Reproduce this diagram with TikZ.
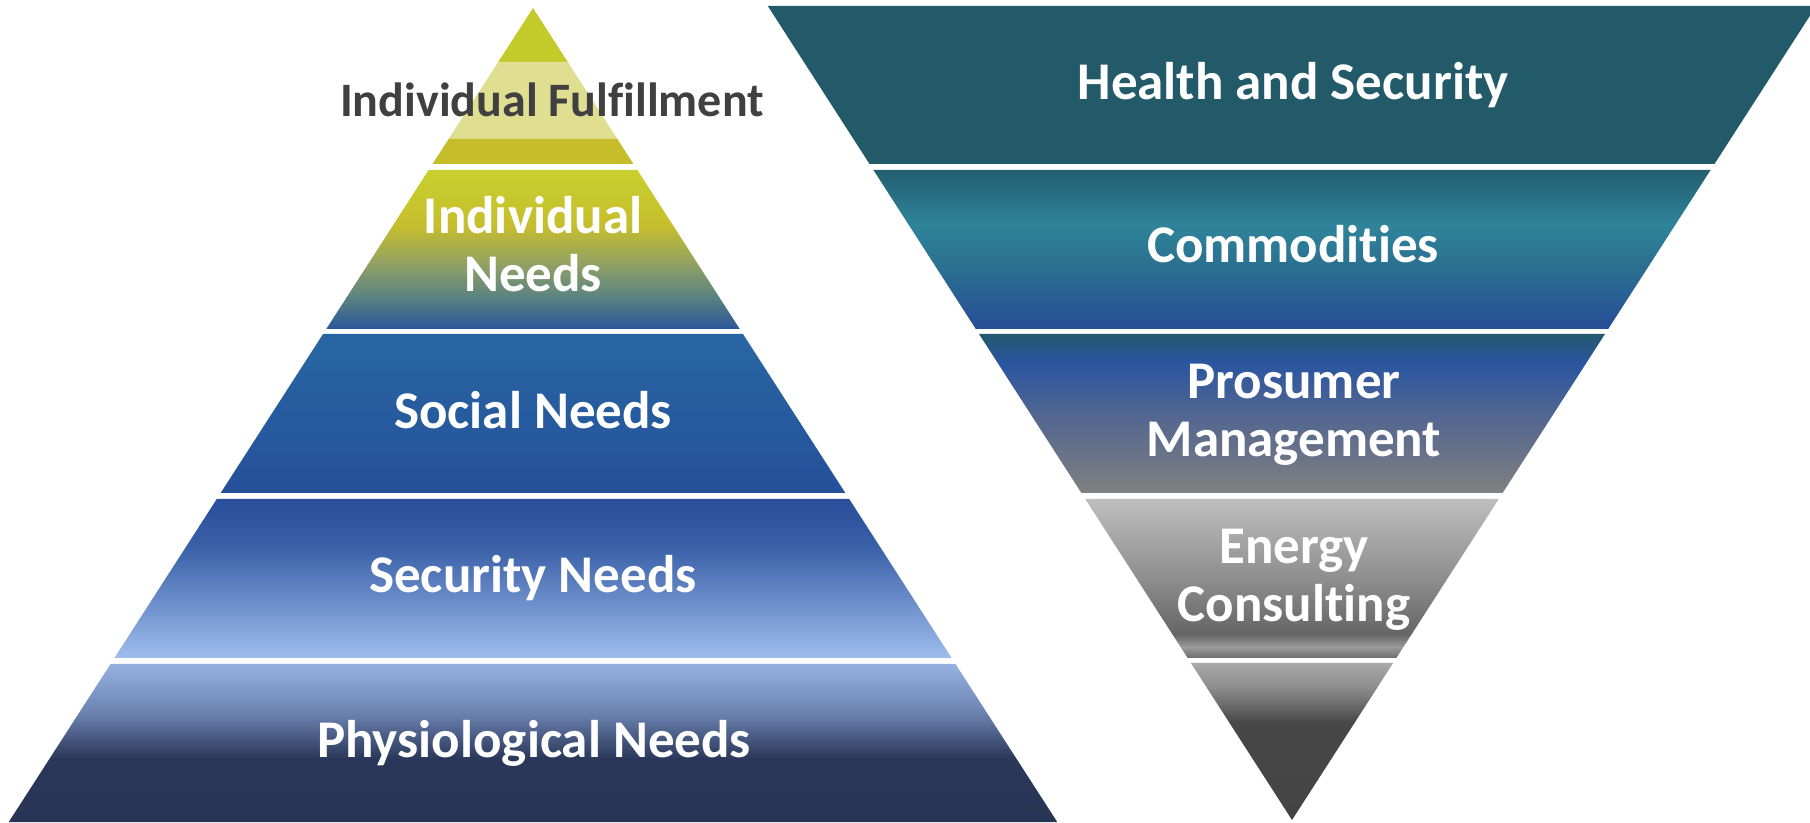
\documentclass[tikz,border=0pt]{standalone}
\usepackage{fontspec}
\setmainfont[Ligatures=NoCommon]{Carlito}
\definecolor{fulA}{HTML}{C5CA2B}
\definecolor{fulB}{HTML}{DFDE91}
\definecolor{fulC}{HTML}{C5BD2A}
\definecolor{fulgray}{HTML}{404040}
\definecolor{LtwoA}{HTML}{C8D02E}
\definecolor{LtwoB}{HTML}{C6BE2D}
\definecolor{LtwoC}{HTML}{8FA066}
\definecolor{LtwoD}{HTML}{5A8280}
\definecolor{LtwoE}{HTML}{2B5699}
\definecolor{LthrA}{HTML}{2866A3}
\definecolor{LthrB}{HTML}{25509A}
\definecolor{LfouA}{HTML}{2A4E9A}
\definecolor{LfouB}{HTML}{3A60A8}
\definecolor{LfouC}{HTML}{9EBDEC}
\definecolor{LfivA}{HTML}{96B1E0}
\definecolor{LfivB}{HTML}{6D84B3}
\definecolor{LfivC}{HTML}{2A3759}
\definecolor{LfivD}{HTML}{283454}
\definecolor{RoneA}{HTML}{225A69}
\definecolor{RtwoA}{HTML}{245E70}
\definecolor{RtwoB}{HTML}{2E849A}
\definecolor{RtwoC}{HTML}{2B7090}
\definecolor{RtwoD}{HTML}{274E98}
\definecolor{RthrA}{HTML}{23596F}
\definecolor{RthrB}{HTML}{2A55A0}
\definecolor{RthrC}{HTML}{56688F}
\definecolor{RthrD}{HTML}{808080}
\definecolor{RfouA}{HTML}{BEBEBE}
\definecolor{RfouB}{HTML}{8E8E8E}
\definecolor{RfouC}{HTML}{656565}
\definecolor{RfouD}{HTML}{9A9A9A}
\definecolor{RfouE}{HTML}{6E6E6E}
\definecolor{RfivA}{HTML}{A8A8A8}
\definecolor{RfivB}{HTML}{8E8E8E}
\definecolor{RfivC}{HTML}{474747}
\definecolor{RfivD}{HTML}{444444}
% vertical shadings: 25bp = bottom of layer, 75bp = top of layer
\pgfdeclareverticalshading{shLtwo}{100bp}{color(0bp)=(LtwoE); color(25bp)=(LtwoE); color(35bp)=(LtwoD); color(45bp)=(LtwoC); color(57.5bp)=(LtwoB); color(75bp)=(LtwoA); color(100bp)=(LtwoA)}
\pgfdeclareverticalshading{shLthr}{100bp}{color(0bp)=(LthrB); color(25bp)=(LthrB); color(75bp)=(LthrA); color(100bp)=(LthrA)}
\pgfdeclareverticalshading{shLfou}{100bp}{color(0bp)=(LfouC); color(25bp)=(LfouC); color(60bp)=(LfouB); color(75bp)=(LfouA); color(100bp)=(LfouA)}
\pgfdeclareverticalshading{shLfiv}{100bp}{color(0bp)=(LfivD); color(25bp)=(LfivD); color(45bp)=(LfivC); color(60bp)=(LfivB); color(75bp)=(LfivA); color(100bp)=(LfivA)}
\pgfdeclareverticalshading{shRtwo}{100bp}{color(0bp)=(RtwoD); color(25bp)=(RtwoD); color(45bp)=(RtwoC); color(57.5bp)=(RtwoB); color(75bp)=(RtwoA); color(100bp)=(RtwoA)}
\pgfdeclareverticalshading{shRthr}{100bp}{color(0bp)=(RthrD); color(25bp)=(RthrD); color(47.5bp)=(RthrC); color(66bp)=(RthrB); color(75bp)=(RthrA); color(100bp)=(RthrA)}
\pgfdeclareverticalshading{shRfou}{100bp}{color(0bp)=(RfouE); color(25bp)=(RfouE); color(28.5bp)=(RfouD); color(32.5bp)=(RfouC); color(50bp)=(RfouB); color(75bp)=(RfouA); color(100bp)=(RfouA)}
\pgfdeclareverticalshading{shRfiv}{100bp}{color(0bp)=(RfivD); color(25bp)=(RfivD); color(56bp)=(RfivC); color(67.5bp)=(RfivB); color(75bp)=(RfivA); color(100bp)=(RfivA)}
% trapezoid helpers (pixel coordinates, y measured downward)
\newcommand\lefttrap[3]{\shade[#3] ({533-0.644*(#1-8)},{822-#1}) -- ({533+0.644*(#1-8)},{822-#1}) -- ({533+0.644*(#2-8)},{822-#2}) -- ({533-0.644*(#2-8)},{822-#2}) -- cycle;}
\newcommand\righttrap[3]{\shade[#3] ({1292-0.644*(820-#1)},{822-#1}) -- ({1292+0.644*(820-#1)},{822-#1}) -- ({1292+0.644*(820-#2)},{822-#2}) -- ({1292-0.644*(820-#2)},{822-#2}) -- cycle;}
\tikzset{
  lbl/.style={font=\fontsize{53}{58}\selectfont\bfseries, text=white, align=center, inner sep=0pt},
}
\begin{document}
\begin{tikzpicture}[x=1pt,y=1pt]
\useasboundingbox (0,0) rectangle (1810,822);
\clip (0,0) rectangle (1810,822);
% left pyramid
\lefttrap{8}{62}{top color=fulA,bottom color=fulA}
\lefttrap{62}{139}{top color=fulB,bottom color=fulB}
\lefttrap{139}{164}{top color=fulC,bottom color=fulC}
\lefttrap{170}{329}{shading=shLtwo}
\lefttrap{334}{493}{shading=shLthr}
\lefttrap{499}{658}{shading=shLfou}
\lefttrap{664}{822}{shading=shLfiv}
% right inverted pyramid
\righttrap{6}{164}{top color=RoneA,bottom color=RoneA}
\righttrap{170}{329}{shading=shRtwo}
\righttrap{334}{493}{shading=shRthr}
\righttrap{499}{658}{shading=shRfou}
\righttrap{663}{820}{shading=shRfiv}
% labels (multi-line nodes: base anchor = last line's baseline)
\node[lbl, text=fulgray, font=\fontsize{48}{56}\selectfont\bfseries, anchor=base] (tfulfil) at (552,{822-117}) {Individual Fulfillment};
\node[lbl, anchor=base] (tindiv) at (533,{822-292}) {Individual\\Needs};
\node[lbl, anchor=base] (tsocial) at (533,{822-429}) {Social Needs};
\node[lbl, anchor=base] (tsecur) at (533,{822-593}) {Security Needs};
\node[lbl, anchor=base] (tphys) at (534,{822-758}) {Physiological Needs};
\node[lbl, anchor=base] (thealth) at (1293,{822-100}) {Health and Security};
\node[lbl, anchor=base] (tcomm) at (1293,{822-263}) {Commodities};
\node[lbl, anchor=base] (tpros) at (1294,{822-457}) {Prosumer\\Management};
\node[lbl, anchor=base] (tenergy) at (1294,{822-622}) {Energy\\Consulting};
\end{tikzpicture}
\end{document}
